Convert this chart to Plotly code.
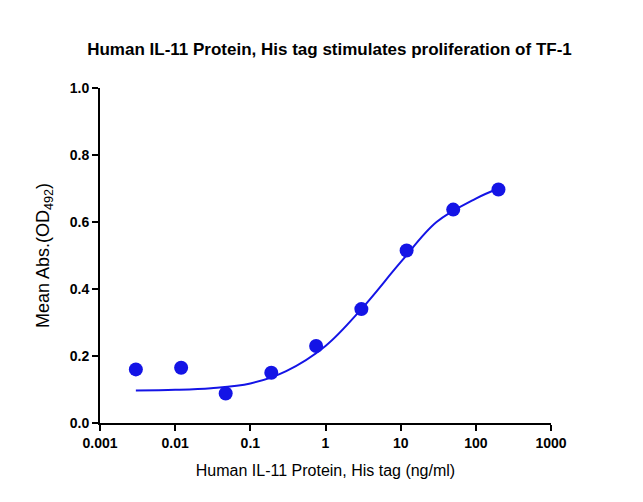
import plotly.graph_objects as go

# measured points
conc = [0.003, 0.012, 0.047, 0.19, 0.75, 3, 12, 50, 200]
od = [0.160, 0.165, 0.088, 0.150, 0.230, 0.340, 0.515, 0.637, 0.697]

# fitted curve
fit_x = [0.003, 0.01, 0.03, 0.1, 0.3, 1, 3, 10, 30, 100, 200]
fit_y = [0.097, 0.099, 0.104, 0.118, 0.155, 0.230, 0.340, 0.480, 0.600, 0.670, 0.700]

blue = 'rgb(20,20,230)'

fig = go.Figure()
fig.add_trace(go.Scatter(x=fit_x, y=fit_y, mode='lines',
                         line=dict(color=blue, width=2, shape='spline'),
                         showlegend=False))
fig.add_trace(go.Scatter(x=conc, y=od, mode='markers',
                         marker=dict(color=blue, size=14),
                         showlegend=False))

axis = dict(showline=True, linecolor='black', linewidth=2, ticks='outside',
            ticklen=6, tickwidth=2, tickcolor='black', showgrid=False,
            zeroline=False,
            tickfont=dict(size=14, color='black', family='Liberation Sans',
                          weight='bold'))

fig.update_layout(
    width=643, height=502,
    margin=dict(l=92, r=100, t=80, b=87),
    plot_bgcolor='white', paper_bgcolor='white',
    font=dict(family='Liberation Sans', color='black'),
    title=dict(text='<b>Human IL-11 Protein, His tag stimulates proliferation of TF-1</b>',
               x=0.5, y=0.93, xanchor='center', font=dict(size=17)),
    xaxis=dict(axis, type='log', range=[-3, 3],
               tickvals=[0.001, 0.01, 0.1, 1, 10, 100, 1000],
               ticktext=['0.001', '0.01', '0.1', '1', '10', '100', '1000'],
               title=dict(text='Human IL-11 Protein, His tag (ng/ml)',
                          font=dict(size=16))),
    yaxis=dict(axis, range=[0, 1], dtick=0.2, tickformat='.1f',
               title=dict(text='Mean Abs.(OD<sub>492</sub>)', font=dict(size=18))),
)

fig.write_html("out.html")
